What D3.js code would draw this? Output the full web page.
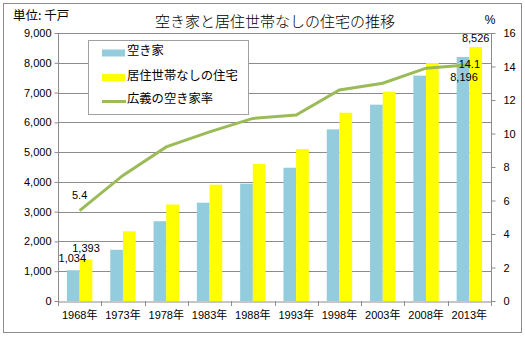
<!DOCTYPE html>
<html><head><meta charset="utf-8">
<script src="https://cdn.jsdelivr.net/npm/d3@7"></script>
<style>body{margin:0;background:#fff}svg{display:block}</style>
</head><body>
<script>
const years = ["1968年","1973年","1978年","1983年","1988年","1993年","1998年","2003年","2008年","2013年"];
const akiya = [1034,1720,2679,3302,3940,4476,5764,6593,7568,8196];
const noResident = [1393,2340,3240,3906,4598,5100,6322,7028,7990,8526];
const rate = [5.4,7.5,9.2,10.1,10.9,11.1,12.6,13.0,13.9,14.1];
const leftTicks = [0,1000,2000,3000,4000,5000,6000,7000,8000,9000];
const rightTicks = [0,2,4,6,8,10,12,14,16];
const seriesNames = ["空き家","居住世帯なしの住宅","広義の空き家率"];
const colors = {blue:"#93CDDD", yellow:"#FFFF00", green:"#9BBB59", grid:"#8c8c8c"};

const W=525,H=337;
const svg=d3.select("body").append("svg").attr("width",W).attr("height",H);
const L=58,R=491,T=33,B=301;
const numFont="'Liberation Sans', Arial, sans-serif";
const jpFont="'Noto Sans CJK JP', sans-serif";

svg.append("rect").attr("x",3.5).attr("y",3.5).attr("width",518).attr("height",329)
  .attr("fill","#fff").attr("stroke","#8c8c8c").attr("stroke-width",1);

const x0=d3.scaleBand().domain(years).range([L,R]).padding(0);
const x1=d3.scaleBand().domain(["a","b"]).range([0,x0.bandwidth()]).paddingInner(0).paddingOuter(0.705);
const y=d3.scaleLinear().domain([0,9000]).range([B,T]);
const y2=d3.scaleLinear().domain([0,16]).range([B,T]);

// gridlines
svg.append("g").selectAll("line").data(leftTicks.slice(1)).join("line")
  .attr("x1",L).attr("x2",R).attr("y1",d=>Math.round(y(d))+0.5).attr("y2",d=>Math.round(y(d))+0.5)
  .attr("stroke",colors.grid).attr("stroke-width",1);

// bars
const g=svg.append("g");
g.selectAll(".b1").data(akiya).join("rect")
  .attr("x",(d,i)=>x0(years[i])+x1("a")).attr("width",x1.bandwidth())
  .attr("y",d=>y(d)).attr("height",d=>B-y(d)).attr("fill",colors.blue);
g.selectAll(".b2").data(noResident).join("rect")
  .attr("x",(d,i)=>x0(years[i])+x1("b")).attr("width",x1.bandwidth())
  .attr("y",d=>y(d)).attr("height",d=>B-y(d)).attr("fill",colors.yellow);

// axes
const axL=d3.axisLeft(y).tickValues(leftTicks).tickSize(4).tickFormat(d3.format(","));
const gl=svg.append("g").attr("transform",`translate(${L+0.5},0)`).call(axL);
const axR=d3.axisRight(y2).tickValues(rightTicks).tickSize(4).tickPadding(8);
const gr=svg.append("g").attr("transform",`translate(${R+0.5},0)`).call(axR);
const axB=d3.axisBottom(x0).tickSize(0).tickPadding(10);
const gb=svg.append("g").attr("transform",`translate(0,${B+0.5})`).call(axB);
// bottom boundary ticks
svg.append("g").selectAll("line").data(years.concat(["end"])).join("line")
  .attr("x1",(d,i)=>Math.round(L+i*x0.step())+0.5).attr("x2",(d,i)=>Math.round(L+i*x0.step())+0.5)
  .attr("y1",B).attr("y2",B+5).attr("stroke",colors.grid);
[gl,gr,gb].forEach(a=>{
  a.selectAll("path").attr("stroke",colors.grid);
  a.selectAll("line").attr("stroke",colors.grid);
  a.selectAll("text").attr("font-family",numFont).attr("font-size",11).attr("fill","#000");
});
gl.select(".domain").attr("d",`M0,${B}V${T}`);
gr.select(".domain").attr("d",`M0,${B}V${T}`);
gb.selectAll("text").attr("font-family",numFont+","+jpFont);

// line
const line=d3.line().x((d,i)=>x0(years[i])+x0.bandwidth()/2).y(d=>y2(d));
svg.append("path").datum(rate).attr("d",line).attr("fill","none")
  .attr("stroke",colors.green).attr("stroke-width",3);

// data labels
const lab=(x,yy,t)=>svg.append("text").attr("x",x).attr("y",yy).attr("text-anchor","middle")
  .attr("font-family",numFont).attr("font-size",11).attr("fill","#000").text(t);
const cx=(i,s)=>x0(years[i])+x1(s)+x1.bandwidth()/2;
const fmt=d3.format(",");
lab(cx(0,"a")-1,y(akiya[0])-8,fmt(akiya[0]));
lab(cx(0,"b"),y(noResident[0])-8,fmt(noResident[0]));
lab(x0(years[0])+x0.bandwidth()/2,y2(rate[0])-12,rate[0].toFixed(1));
lab(cx(9,"b"),y(noResident[9])-5,fmt(noResident[9]));
lab(cx(9,"a")+1,y(akiya[9])+24,fmt(akiya[9]));
lab(x0(years[9])+x0.bandwidth()/2,y2(rate[9])+3,rate[9].toFixed(1));

// title texts
svg.append("text").attr("x",275).attr("y",27).attr("text-anchor","middle")
  .attr("font-family",jpFont).attr("font-size",15).attr("font-weight",300).text("空き家と居住世帯なしの住宅の推移");
svg.append("text").attr("x",13).attr("y",20).attr("font-family",jpFont).attr("font-size",12.5).text("単位: 千戸");
svg.append("text").attr("x",490).attr("y",24).attr("text-anchor","middle").attr("font-family",numFont).attr("font-size",12).text("%");

// legend
const lg=svg.append("g");
lg.append("rect").attr("x",88.5).attr("y",40.5).attr("width",160).attr("height",74)
  .attr("fill","#fff").attr("stroke","#a0a0a0");
lg.append("rect").attr("x",102).attr("y",49.5).attr("width",23).attr("height",7).attr("fill",colors.blue);
lg.append("rect").attr("x",102).attr("y",74).attr("width",23).attr("height",7).attr("fill",colors.yellow);
lg.append("line").attr("x1",102).attr("x2",126).attr("y1",101.5).attr("y2",101.5).attr("stroke",colors.green).attr("stroke-width",3);
[51,76,99].forEach((yy,i)=>lg.append("text").attr("x",127).attr("y",yy).attr("dy","0.35em")
  .attr("font-family",jpFont).attr("font-size",12.3).text(seriesNames[i]));
</script>
</body></html>
